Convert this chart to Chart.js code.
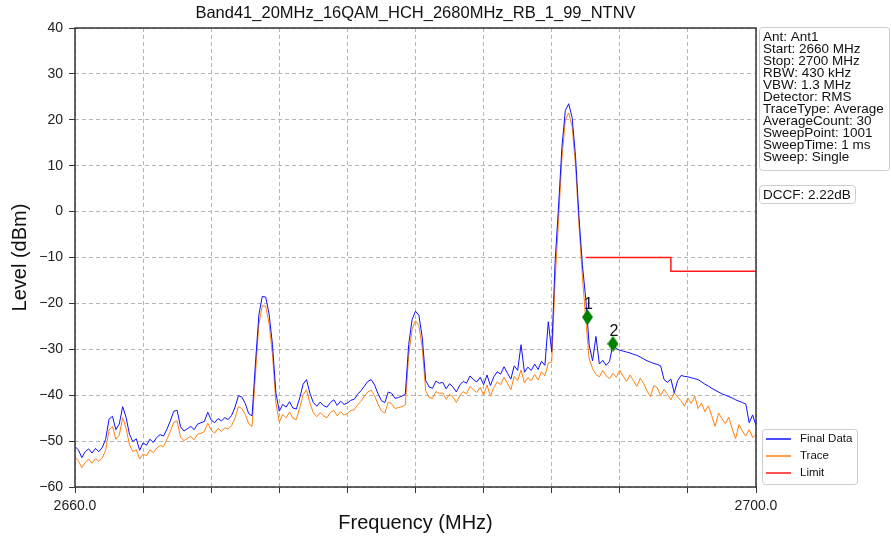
<!DOCTYPE html>
<html lang="en">
<head>
    <meta charset="UTF-8">
    <title>Band41 spectrum</title>
    <script src="https://cdn.jsdelivr.net/npm/chart.js"></script>
    <style>
        html, body { margin: 0; padding: 0; background: #fff; }
        #wrap { width: 891px; height: 539px; }
    </style>
</head>
<body>
    <div id="wrap"><canvas id="specChart" width="891" height="539"></canvas></div>

    <script>
        // sweep grid (MHz)
        const sweepStart = 2660;
        const sweepStep = 0.2;

        // Final Data (dBm), one value per sweep step
        const finalData = [
            -51.2, -51.9, -53.6, -52.3, -51.7, -52.6, -51.6, -52.3, -51.4, -49.6,
            -45.2, -44.6, -47.5, -46.3, -42.5, -44.8, -48.5, -50.1, -49.5, -52.0,
            -50.4, -50.9, -49.6, -50.3, -49.2, -48.6, -48.9, -47.4, -45.6, -43.5,
            -43.3, -46.9, -47.8, -47.3, -46.8, -47.5, -46.3, -46.0, -45.7, -43.7,
            -45.4, -46.0, -45.1, -45.6, -44.9, -45.3, -44.4, -42.6, -40.1, -40.4,
            -41.8, -44.0, -44.5, -33.0, -22.5, -18.5, -18.6, -22.3, -29.0, -39.5,
            -43.5, -42.0, -42.6, -41.4, -42.8, -43.0, -40.6, -37.6, -36.6, -39.6,
            -41.6, -42.4, -41.5, -42.3, -42.6, -41.6, -41.0, -42.2, -41.3, -42.0,
            -41.7, -41.1, -40.9, -39.8, -39.0, -38.0, -37.0, -36.6, -37.8, -39.7,
            -41.2, -41.6, -39.3, -39.6, -40.7, -40.5, -40.2, -39.8, -29.0, -23.5,
            -21.7, -22.6, -27.5, -36.8, -38.2, -38.5, -36.9, -37.4, -37.2, -38.6,
            -37.5, -38.2, -39.3, -37.8, -37.0, -37.4, -35.8, -36.6, -37.1, -36.1,
            -37.7, -35.6, -37.9, -36.0, -34.9, -35.4, -33.8, -35.2, -36.5, -33.6,
            -34.6, -29.0, -35.0, -33.9, -34.6, -33.2, -34.4, -32.6, -33.5, -24.0,
            -30.5, -11.0, 1.0, 14.0, 22.0, 23.5, 20.5, 12.0, -1.0, -11.5,
            -19.0, -29.0, -32.5, -27.2, -33.2, -32.4, -33.5, -32.6, -28.8, -29.9,
            -30.2, -30.4, -30.6, -30.8, -31.1, -31.3, -31.7, -32.1, -32.5, -32.8,
            -33.1, -33.3, -33.6, -36.6, -37.2, -36.5, -39.5, -36.8, -35.7, -35.9,
            -36.0, -36.2, -36.4, -36.6, -37.1, -37.6, -38.0, -38.5, -38.9, -39.3,
            -39.7, -40.0, -40.3, -40.6, -41.0, -41.3, -41.6, -41.9, -46.0, -44.3,
            -46.6
        ];

        // Trace (dBm)
        const traceData = [
            -53.5, -54.3, -55.8, -54.7, -53.9, -54.8, -53.8, -54.4, -53.7, -52.0,
            -47.6, -46.8, -49.6, -48.7, -44.9, -47.2, -50.8, -52.3, -51.9, -53.9,
            -52.8, -53.2, -51.9, -52.5, -51.5, -51.0, -51.2, -49.6, -47.9, -45.9,
            -45.6, -49.2, -49.9, -49.4, -49.0, -49.7, -48.5, -48.3, -47.9, -46.1,
            -47.6, -48.3, -47.2, -47.9, -47.1, -47.4, -46.6, -45.0, -42.5, -42.9,
            -44.2, -46.2, -46.8, -35.5, -24.5, -20.5, -20.6, -24.4, -31.2, -41.7,
            -45.9, -44.2, -44.9, -43.7, -45.0, -45.3, -42.8, -39.9, -38.8, -41.8,
            -43.8, -44.7, -43.8, -44.5, -44.9, -43.8, -43.3, -44.5, -43.6, -44.3,
            -44.0, -43.3, -43.2, -42.1, -41.3, -40.2, -39.3, -38.9, -40.1, -42.0,
            -43.4, -43.9, -41.5, -41.9, -42.9, -42.7, -42.5, -42.1, -31.3, -25.6,
            -23.8, -24.8, -29.8, -39.0, -40.5, -40.7, -39.2, -39.6, -39.5, -40.9,
            -39.8, -40.4, -41.6, -40.1, -39.2, -39.7, -38.1, -38.8, -39.4, -38.3,
            -40.0, -37.8, -40.2, -38.3, -37.1, -37.7, -36.1, -37.4, -38.8, -35.9,
            -36.8, -34.5, -37.3, -36.2, -36.8, -35.5, -36.7, -34.9, -35.8, -33.0,
            -32.8, -15.0, -2.0, 11.5, 20.0, 21.5, 18.5, 10.0, -3.0, -14.0,
            -23.5, -32.0, -34.2, -35.5, -36.0, -34.6, -35.8, -36.4, -35.2, -36.1,
            -34.6, -35.9, -37.0, -35.6, -36.8, -38.1, -36.3, -37.4, -39.1, -40.3,
            -37.9, -38.4, -40.1, -38.7, -39.8, -41.0, -39.5, -40.4, -41.2, -42.4,
            -40.6, -41.8, -40.2, -42.9, -41.7, -43.6, -42.3, -44.5, -46.8, -43.9,
            -45.1, -46.2, -44.8, -47.3, -49.5, -46.4, -47.8, -48.9, -47.5, -49.2,
            -48.7
        ];

        // limit line
        const limitFreq = [2690, 2695, 2695, 2700];
        const limitLevel = [-10, -10, -13, -13];

        // markers
        const markerFreq = [2690.1, 2691.6];
        const markerLevel = [-23.0, -28.8];
        const markerLabel = ['1', '2'];

        // axis ticks
        const yTicks = [-60, -50, -40, -30, -20, -10, 0, 10, 20, 30, 40];
        const xLabelled = [2660, 2700];

        const infoLines = [
            'Ant: Ant1', 'Start: 2660 MHz', 'Stop: 2700 MHz', 'RBW: 430 kHz',
            'VBW: 1.3 MHz', 'Detector: RMS', 'TraceType: Average', 'AverageCount: 30',
            'SweepPoint: 1001', 'SweepTime: 1 ms', 'Sweep: Single'
        ];
        const dccfText = 'DCCF: 2.22dB';
        const chartTitle = 'Band41_20MHz_16QAM_HCH_2680MHz_RB_1_99_NTNV';

        const FONT = '"Liberation Sans", Arial, sans-serif';
        const COL_FINAL = '#1010ff';
        const COL_TRACE = '#ff7f0e';
        const COL_LIMIT = '#ff1a1a';

        const freqMHz = finalData.map((_, i) => +(sweepStart + i * sweepStep).toFixed(1));
        const toXY = (xs, ys) => xs.map((x, i) => ({ x: x, y: ys[i] }));

        // thin diamond marker
        const diamond = document.createElement('canvas');
        diamond.width = 11; diamond.height = 16;
        (function () {
            const c = diamond.getContext('2d');
            c.fillStyle = '#008000';
            c.beginPath();
            c.moveTo(5.5, 0); c.lineTo(11, 8); c.lineTo(5.5, 16); c.lineTo(0, 8);
            c.closePath(); c.fill();
        })();

        function roundBox(ctx, x, y, w, h, r) {
            ctx.beginPath();
            ctx.moveTo(x + r, y);
            ctx.arcTo(x + w, y, x + w, y + h, r);
            ctx.arcTo(x + w, y + h, x, y + h, r);
            ctx.arcTo(x, y + h, x, y, r);
            ctx.arcTo(x, y, x + w, y, r);
            ctx.closePath();
            ctx.fillStyle = '#fff';
            ctx.fill();
            ctx.strokeStyle = '#cccccc';
            ctx.lineWidth = 1;
            ctx.stroke();
        }

        // title, frame, info boxes, legend, marker numbers
        const decorations = {
            id: 'decorations',
            afterDraw(chart) {
                const ctx = chart.ctx;
                const a = chart.chartArea;
                const xs = chart.scales.x, ys = chart.scales.y;
                ctx.save();

                ctx.strokeStyle = '#333';
                ctx.lineWidth = 1.5;
                ctx.strokeRect(a.left, a.top, a.right - a.left, a.bottom - a.top);

                ctx.fillStyle = '#111';
                ctx.font = '16.5px ' + FONT;
                ctx.textAlign = 'center';
                ctx.textBaseline = 'middle';
                ctx.fillText(chartTitle, (a.left + a.right) / 2, 13);

                ctx.font = '16px ' + FONT;
                ctx.textBaseline = 'alphabetic';
                markerLabel.forEach((t, i) => {
                    ctx.fillText(t, xs.getPixelForValue(markerFreq[i]) + 1,
                        ys.getPixelForValue(markerLevel[i]) - 8);
                });

                // info box
                roundBox(ctx, 759.5, 27.5, 130, 143, 3);
                ctx.fillStyle = '#111';
                ctx.font = '13.5px ' + FONT;
                ctx.textAlign = 'left';
                infoLines.forEach((t, i) => ctx.fillText(t, 763, 41 + i * 11.95));

                roundBox(ctx, 759.5, 185.5, 96, 18, 3);
                ctx.fillStyle = '#111';
                ctx.fillText(dccfText, 763, 199);

                // legend
                roundBox(ctx, 762.5, 429.5, 95, 55, 3);
                const items = [['Final Data', COL_FINAL], ['Trace', COL_TRACE], ['Limit', COL_LIMIT]];
                ctx.font = '11.5px ' + FONT;
                ctx.textBaseline = 'middle';
                items.forEach((it, i) => {
                    const y = 439 + i * 17;
                    ctx.strokeStyle = it[1];
                    ctx.lineWidth = 1.5;
                    ctx.beginPath();
                    ctx.moveTo(766, y); ctx.lineTo(791, y);
                    ctx.stroke();
                    ctx.fillStyle = '#111';
                    ctx.fillText(it[0], 800, y);
                });
                ctx.restore();
            }
        };

        const ctx = document.getElementById('specChart').getContext('2d');
        new Chart(ctx, {
            type: 'line',
            data: {
                datasets: [
                    {
                        label: 'Marker',
                        data: toXY(markerFreq, markerLevel),
                        showLine: false,
                        pointStyle: diamond,
                        pointRadius: 8,
                        borderColor: '#008000',
                        backgroundColor: '#008000'
                    },
                    {
                        label: 'Limit',
                        data: toXY(limitFreq, limitLevel),
                        borderColor: COL_LIMIT,
                        borderWidth: 1.5,
                        pointRadius: 0
                    },
                    {
                        label: 'Final Data',
                        data: toXY(freqMHz, finalData),
                        borderColor: COL_FINAL,
                        borderWidth: 1,
                        pointRadius: 0
                    },
                    {
                        label: 'Trace',
                        data: toXY(freqMHz, traceData),
                        borderColor: COL_TRACE,
                        borderWidth: 1,
                        pointRadius: 0
                    }
                ]
            },
            options: {
                responsive: false,
                animation: false,
                layout: { padding: { left: 0, right: 135, top: 28, bottom: 0 } },
                elements: { line: { tension: 0 } },
                scales: {
                    x: {
                        type: 'linear',
                        min: 2660,
                        max: 2700,
                        afterFit: (s) => { s.height = 52; },
                        afterBuildTicks: (s) => {
                            s.ticks = [];
                            for (let i = 0; i <= 10; i++) s.ticks.push({ value: 2660 + i * 4 });
                        },
                        ticks: {
                            autoSkip: false,
                            maxRotation: 0,
                            padding: 5,
                            color: '#222',
                            font: { family: FONT, size: 14 },
                            callback: (v) => xLabelled.includes(v) ? v.toFixed(1) : ''
                        },
                        grid: {
                            color: '#b5b5b5',
                            lineWidth: 1,
                            tickLength: 6,
                            tickColor: '#333',
                            tickWidth: 1,
                            tickBorderDash: []
                        },
                        border: { display: false, dash: [4, 3] },
                        title: {
                            display: true,
                            text: 'Frequency (MHz)',
                            color: '#111',
                            font: { family: FONT, size: 20 },
                            padding: { top: 0, bottom: 4 }
                        }
                    },
                    y: {
                        min: -60,
                        max: 40,
                        afterFit: (s) => { s.width = 75; },
                        afterBuildTicks: (s) => { s.ticks = yTicks.map(v => ({ value: v })); },
                        ticks: {
                            padding: 6,
                            color: '#222',
                            font: { family: FONT, size: 14 },
                            callback: (v) => String(v).replace('-', '\u2212')
                        },
                        grid: {
                            color: '#b5b5b5',
                            lineWidth: 1,
                            tickLength: 6,
                            tickColor: '#333',
                            tickWidth: 1,
                            tickBorderDash: []
                        },
                        border: { display: false, dash: [4, 3] },
                        title: {
                            display: true,
                            text: 'Level (dBm)',
                            color: '#111',
                            font: { family: FONT, size: 20 },
                            padding: { top: 8, bottom: 0 }
                        }
                    }
                },
                plugins: {
                    legend: { display: false },
                    tooltip: { enabled: false },
                    title: { display: false }
                }
            },
            plugins: [decorations]
        });
    </script>
</body>
</html>
